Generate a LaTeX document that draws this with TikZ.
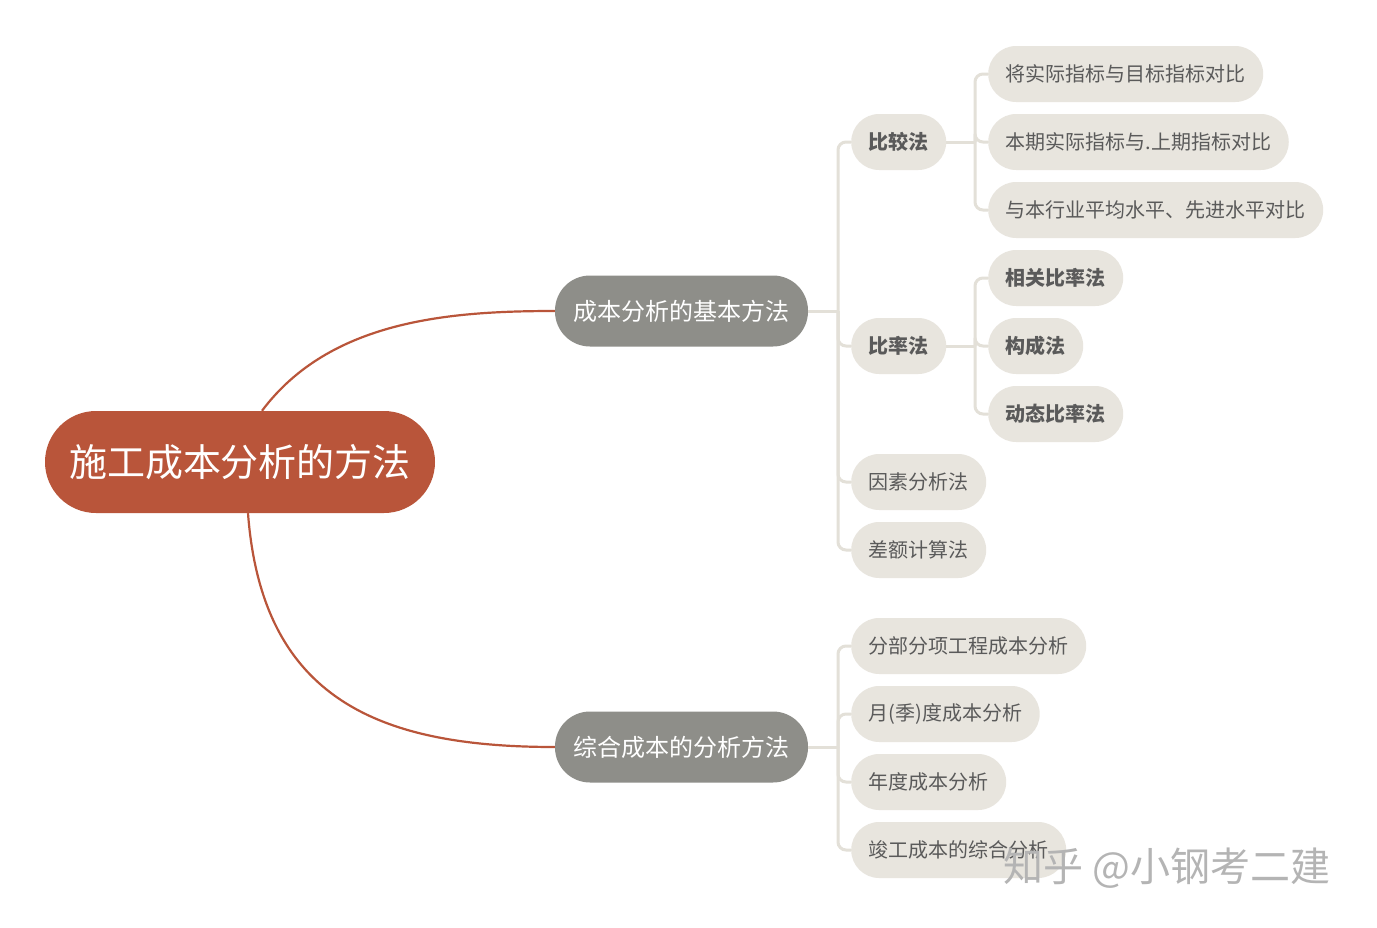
\documentclass[tikz,border=0pt]{standalone}
\usepackage{fontspec}
\newfontfamily\cjk{Noto Sans CJK SC}
\usetikzlibrary{calc}
\definecolor{rootc}{HTML}{B9553A}
\definecolor{mainc}{HTML}{8E8E89}
\definecolor{leafc}{HTML}{E8E5DE}
\definecolor{linec}{HTML}{E3E0D8}
\definecolor{txtc}{HTML}{5A5A5A}
\definecolor{wmc}{HTML}{B4B4B4}
\tikzset{
  rootbox/.style={fill=rootc, text=white, rounded corners=51pt, minimum height=102pt, inner xsep=24pt, inner ysep=0pt, font=\cjk\fontsize{38}{44}\selectfont},
  mainbox/.style={fill=mainc, text=white, rounded corners=35pt, minimum height=71pt, inner xsep=18.5pt, inner ysep=0pt, font=\cjk\fontsize{24}{28}\selectfont},
  leafbox/.style={fill=leafc, text=txtc, rounded corners=28pt, minimum height=56pt, inner xsep=17.5pt, inner ysep=0pt, anchor=west, font=\cjk\fontsize{20}{24}\selectfont},
  boldbox/.style={leafbox, font=\cjk\bfseries\fontsize{20}{24}\selectfont},
  rootlink/.style={draw=rootc, line width=2.2pt},
  branch/.style={draw=linec, line width=3pt, rounded corners=8pt},
}
\begin{document}
\begin{tikzpicture}[x=1pt,y=-1pt]
\useasboundingbox (0,0) rectangle (1377,927);
\fill[white] (0,0) rectangle (1377,927);
% nodes
\node[rootbox] (root) at (240,462) {施工成本分析的方法};
\node[mainbox] (m1) at (681.5,311) {成本分析的基本方法};
\node[mainbox] (m2) at (681.5,747) {综合成本的分析方法};

\node[boldbox] (bj) at (851,142) {比较法};
\node[boldbox] (bl) at (851,346) {比率法};
\node[leafbox] (ys) at (851,482) {因素分析法};
\node[leafbox] (ce) at (851,550) {差额计算法};

\node[leafbox] (bj1) at (988,74) {将实际指标与目标指标对比};
\node[leafbox] (bj2) at (988,142) {本期实际指标与.上期指标对比};
\node[leafbox] (bj3) at (988,210) {与本行业平均水平、先进水平对比};

\node[boldbox] (bl1) at (988,278) {相关比率法};
\node[boldbox] (bl2) at (988,346) {构成法};
\node[boldbox] (bl3) at (988,414) {动态比率法};

\node[leafbox] (z1) at (851,646) {分部分项工程成本分析};
\node[leafbox] (z2) at (851,714) {月(季)度成本分析};
\node[leafbox] (z3) at (851,782) {年度成本分析};
\node[leafbox] (z4) at (851,850) {竣工成本的综合分析};

% junctions
\coordinate (j1) at (838,311);
\coordinate (j2) at (838,747);
\coordinate (jb) at (975,142);
\coordinate (jl) at (975,346);

% root links
\draw[rootlink] ($(root.north)+(22,0)$) .. controls (330,320) and (450,311) .. (m1.west);
\draw[rootlink] ($(root.south)+(8,0)$) .. controls (262,700) and (380,747) .. (m2.west);

% branches
\draw[branch] (m1.east) -- (j1);
\foreach \n in {bj,bl,ys,ce} \draw[branch] (j1) |- (\n.west);
\draw[branch] (m2.east) -- (j2);
\foreach \n in {z1,z2,z3,z4} \draw[branch] (j2) |- (\n.west);
\draw[branch] (bj.east) -- (jb);
\foreach \n in {bj1,bj2,bj3} \draw[branch] (jb) |- (\n.west);
\draw[branch] (bl.east) -- (jl);
\foreach \n in {bl1,bl2,bl3} \draw[branch] (jl) |- (\n.west);

% watermark
\node[anchor=west, inner sep=0pt, text=wmc, font=\cjk\fontsize{40}{46}\selectfont] (wm) at (1003,868) {知乎 @小钢考二建};
\end{tikzpicture}
\end{document}
